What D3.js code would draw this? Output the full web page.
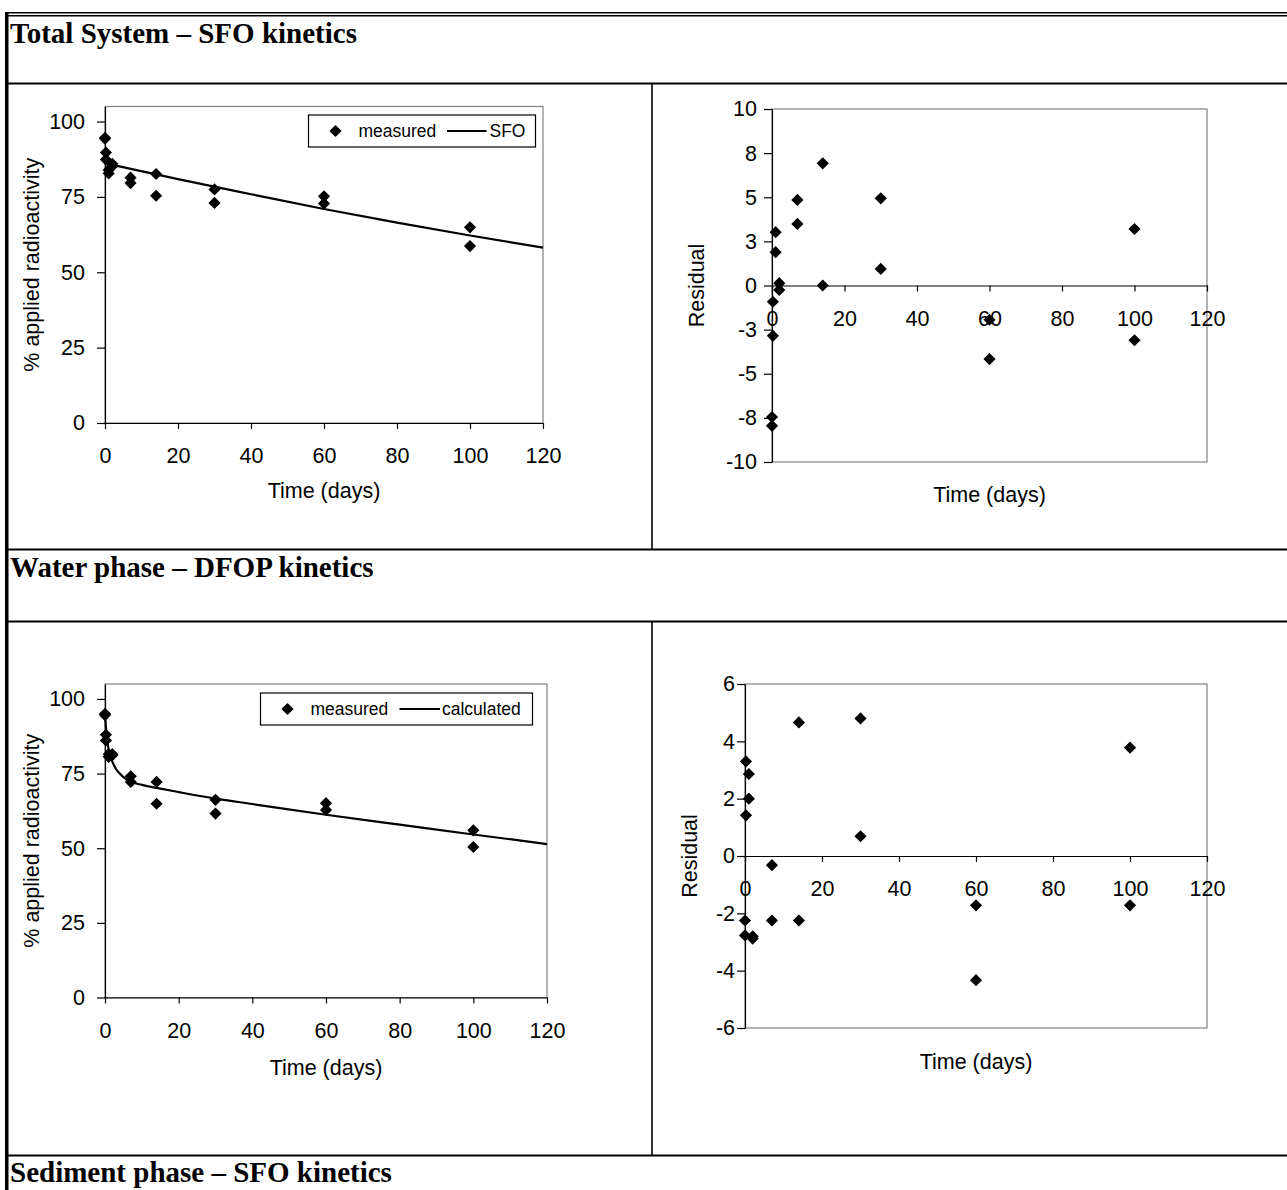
<!DOCTYPE html>
<html>
<head>
<meta charset="utf-8">
<script src="https://cdn.jsdelivr.net/npm/d3@7"></script>
<style>
  body { margin: 0; background: #fff; }
  svg text { font-family: "Liberation Sans", Arial, sans-serif; fill: #000; }
  .section-title { font-family: "Liberation Serif", "Times New Roman", serif; font-weight: bold; font-size: 29px; }
  .axis text { font-size: 21.5px; font-family: "Liberation Sans", Arial, sans-serif; }
  .axis path, .axis line { stroke: #000; stroke-width: 1.2; }
  .axis-title { font-size: 21.5px; }
  .legend text { font-size: 17.5px; }
  .plot-border { fill: none; stroke: #808080; stroke-width: 1.2; }
  .rule { stroke: #000; }
</style>
</head>
<body>
<svg id="sheet" width="1287" height="1190"></svg>
<script>
var Kinetics = Kinetics || {};

// shared ticks
var dayTicks = [0, 20, 40, 60, 80, 100, 120];
var pctTicks = [0, 25, 50, 75, 100];
var totalResTicks = [-10, -7.5, -5, -2.5, 0, 2.5, 5, 7.5, 10];
var totalResLabels = ['-10', '-8', '-5', '-3', '0', '3', '5', '8', '10'];
var waterResTicks = [-6, -4, -2, 0, 2, 4, 6];
var waterResLabels = ['-6', '-4', '-2', '0', '2', '4', '6'];

// sampling days (two replicates each)
var sampleDays = [0, 0, 0.25, 0.25, 1, 1, 2, 2, 7, 7, 14, 14, 30, 30, 60, 60, 100, 100];

// total system, SFO
var totalMeasured = [94.6, 94.3, 89.7, 87.4, 83.9, 82.8, 86.0, 85.2, 81.4, 79.6, 82.6, 75.4, 77.5, 73.0, 75.2, 72.8, 64.9, 58.7];
var totalFitDays = [0, 20, 40, 60, 80, 100, 120];
var totalFit = [86.2, 80.9, 75.9, 71.0, 66.5, 62.2, 58.2];
var totalResidual = [-7.45, -7.95, -2.85, -0.92, 3.02, 1.89, 0.13, -0.25, 4.85, 3.49, 6.92, 0.0, 4.94, 0.94, -1.94, -4.17, 3.2, -3.1];

// water phase, DFOP
var waterMeasured = [95.0, 94.6, 88.0, 86.1, 81.5, 80.6, 81.2, 81.5, 74.1, 72.2, 72.2, 64.9, 66.2, 61.6, 65.1, 62.8, 56.0, 50.4];
var waterFitDays = [0, 0.25, 0.5, 1, 2, 3, 4, 5, 7, 10, 14, 20, 30, 40, 60, 80, 100, 120];
var waterFit = [95.3, 90.5, 87.0, 83.0, 79.0, 76.5, 75.0, 73.8, 72.3, 71.2, 70.2, 68.8, 66.6, 64.8, 61.2, 57.9, 54.6, 51.4];
var waterResidual = [-2.25, -2.77, 3.3, 1.42, 2.86, 2.0, -2.8, -2.88, -0.32, -2.25, 4.66, -2.25, 4.8, 0.69, -1.72, -4.33, 3.78, -1.72];

Kinetics.draw = function(){
  var sheet = d3.select('#sheet');

  Kinetics.drawFrame(sheet);

  Kinetics.drawDecay(sheet, {
    left: 105, right: 543, top: 106.5, bottom: 423,
    yPad: 12, titleX: 39, titleY: 498,
    measured: totalMeasured, fitDays: totalFitDays, fit: totalFit,
    legend: { x: 308.5, y: 115, w: 227, h: 32, marker: 335.5, text1: 358.5, lineFrom: 447, lineTo: 486.5, text2: 489.5 },
    fitLabel: 'SFO'
  });

  Kinetics.drawResidual(sheet, {
    left: 772, right: 1207, top: 109, bottom: 462,
    domain: [-10, 10], ticks: totalResTicks, labels: totalResLabels,
    yPad: 7, titleX: 704, titleY: 502,
    residual: totalResidual
  });

  Kinetics.drawDecay(sheet, {
    left: 105, right: 547, top: 684, bottom: 997.5,
    yPad: 12, titleX: 39, titleY: 1075,
    measured: waterMeasured, fitDays: waterFitDays, fit: waterFit,
    legend: { x: 260.5, y: 693, w: 272, h: 32, marker: 287.5, text1: 310.5, lineFrom: 399.5, lineTo: 440, text2: 442 },
    fitLabel: 'calculated'
  });

  Kinetics.drawResidual(sheet, {
    left: 745, right: 1207, top: 684, bottom: 1028,
    domain: [-6, 6], ticks: waterResTicks, labels: waterResLabels,
    yPad: 2, titleX: 697, titleY: 1069,
    residual: waterResidual
  });
};

Kinetics.drawFrame = function(sheet){
  var width = 1287,
      height = 1190,
      rules = [83.5, 549.5, 621.5, 1155.5];

  sheet.append('rect')
       .attr('width', width)
       .attr('height', height)
       .attr('fill', '#fff');

  sheet.append('line')
       .attr('class', 'rule')
       .attr('x1', 5).attr('y1', 12.75)
       .attr('x2', width).attr('y2', 12.75)
       .attr('stroke-width', 1.6);

  sheet.append('line')
       .attr('class', 'rule')
       .attr('x1', 5).attr('y1', 15.75)
       .attr('x2', width).attr('y2', 15.75)
       .attr('stroke-width', 1.6);

  sheet.append('line')
       .attr('class', 'rule')
       .attr('x1', 6.75).attr('y1', 12)
       .attr('x2', 6.75).attr('y2', height)
       .attr('stroke-width', 3.5);

  rules.forEach(function(y){
    sheet.append('line')
         .attr('class', 'rule')
         .attr('x1', 5).attr('y1', y)
         .attr('x2', width).attr('y2', y)
         .attr('stroke-width', 2.2);
  });

  sheet.append('line')
       .attr('class', 'rule')
       .attr('x1', 652).attr('y1', rules[0])
       .attr('x2', 652).attr('y2', rules[1])
       .attr('stroke-width', 1.6);

  sheet.append('line')
       .attr('class', 'rule')
       .attr('x1', 652).attr('y1', rules[2])
       .attr('x2', 652).attr('y2', rules[3])
       .attr('stroke-width', 1.6);

  sheet.append('text')
       .attr('class', 'section-title')
       .attr('x', 10).attr('y', 43)
       .text('Total System \u2013 SFO kinetics');

  sheet.append('text')
       .attr('class', 'section-title')
       .attr('x', 10).attr('y', 577)
       .text('Water phase \u2013 DFOP kinetics');

  sheet.append('text')
       .attr('class', 'section-title')
       .attr('x', 10).attr('y', 1182)
       .text('Sediment phase \u2013 SFO kinetics');
};

Kinetics.diamond = d3.symbol(d3.symbolSquare, 74);

Kinetics.drawDecay = function(sheet, p){
  var x = d3.scaleLinear().domain([0, 120]).range([p.left, p.right]),
      y = d3.scaleLinear().domain([0, 105]).range([p.bottom, p.top]),
      chart = sheet.append('g').attr('class', 'decay'),
      lg = p.legend,
      midY = lg.y + lg.h / 2;

  chart.append('rect')
       .attr('class', 'plot-border')
       .attr('x', p.left).attr('y', p.top)
       .attr('width', p.right - p.left)
       .attr('height', p.bottom - p.top);

  chart.append('g')
       .attr('class', 'axis')
       .attr('transform', 'translate(0,' + p.bottom + ')')
       .call(d3.axisBottom(x).tickValues(dayTicks).tickSize(6).tickSizeOuter(0).tickPadding(19));

  chart.append('g')
       .attr('class', 'axis')
       .attr('transform', 'translate(' + p.left + ',0)')
       .call(d3.axisLeft(y).tickValues(pctTicks).tickSize(8).tickSizeOuter(0).tickPadding(p.yPad));

  chart.append('path')
       .datum(d3.zip(p.fitDays, p.fit))
       .attr('fill', 'none')
       .attr('stroke', '#000')
       .attr('stroke-width', 2.2)
       .attr('d', d3.line()
                    .x(function(d){ return x(d[0]); })
                    .y(function(d){ return y(d[1]); })
                    .curve(d3.curveMonotoneX));

  chart.append('g')
       .selectAll('path')
       .data(d3.zip(sampleDays, p.measured))
       .join('path')
       .attr('d', Kinetics.diamond)
       .attr('fill', '#000')
       .attr('transform', function(d){ return 'translate(' + x(d[0]) + ',' + y(d[1]) + ') rotate(45)'; });

  chart.append('text')
       .attr('class', 'axis-title')
       .attr('text-anchor', 'middle')
       .attr('x', (p.left + p.right) / 2)
       .attr('y', p.titleY)
       .text('Time (days)');

  chart.append('text')
       .attr('class', 'axis-title')
       .attr('text-anchor', 'middle')
       .attr('transform', 'translate(' + p.titleX + ',' + ((p.top + p.bottom) / 2) + ') rotate(-90)')
       .text('% applied radioactivity');

  var legend = chart.append('g').attr('class', 'legend');

  legend.append('rect')
        .attr('x', lg.x).attr('y', lg.y)
        .attr('width', lg.w).attr('height', lg.h)
        .attr('fill', '#fff')
        .attr('stroke', '#000')
        .attr('stroke-width', 1.2);

  legend.append('path')
        .attr('d', Kinetics.diamond)
        .attr('fill', '#000')
        .attr('transform', 'translate(' + lg.marker + ',' + midY + ') rotate(45)');

  legend.append('text')
        .attr('x', lg.text1).attr('y', midY + 6)
        .text('measured');

  legend.append('line')
        .attr('x1', lg.lineFrom).attr('y1', midY)
        .attr('x2', lg.lineTo).attr('y2', midY)
        .attr('stroke', '#000')
        .attr('stroke-width', 2.2);

  legend.append('text')
        .attr('x', lg.text2).attr('y', midY + 6)
        .text(p.fitLabel);
};

Kinetics.drawResidual = function(sheet, p){
  var x = d3.scaleLinear().domain([0, 120]).range([p.left, p.right]),
      y = d3.scaleLinear().domain(p.domain).range([p.bottom, p.top]),
      chart = sheet.append('g').attr('class', 'residual');

  chart.append('rect')
       .attr('class', 'plot-border')
       .attr('x', p.left).attr('y', p.top)
       .attr('width', p.right - p.left)
       .attr('height', p.bottom - p.top);

  chart.append('g')
       .attr('class', 'axis')
       .attr('transform', 'translate(' + p.left + ',0)')
       .call(d3.axisLeft(y)
               .tickValues(p.ticks)
               .tickFormat(function(d, i){ return p.labels[i]; })
               .tickSize(8).tickSizeOuter(0).tickPadding(p.yPad));

  chart.append('g')
       .attr('class', 'axis')
       .attr('transform', 'translate(0,' + y(0) + ')')
       .call(d3.axisBottom(x).tickValues(dayTicks).tickSize(6).tickSizeOuter(0).tickPadding(19));

  chart.append('g')
       .selectAll('path')
       .data(d3.zip(sampleDays, p.residual))
       .join('path')
       .attr('d', Kinetics.diamond)
       .attr('fill', '#000')
       .attr('transform', function(d){ return 'translate(' + x(d[0]) + ',' + y(d[1]) + ') rotate(45)'; });

  chart.append('text')
       .attr('class', 'axis-title')
       .attr('text-anchor', 'middle')
       .attr('x', (p.left + p.right) / 2)
       .attr('y', p.titleY)
       .text('Time (days)');

  chart.append('text')
       .attr('class', 'axis-title')
       .attr('text-anchor', 'middle')
       .attr('transform', 'translate(' + p.titleX + ',' + ((p.top + p.bottom) / 2) + ') rotate(-90)')
       .text('Residual');
};

Kinetics.draw();
</script>
</body>
</html>
